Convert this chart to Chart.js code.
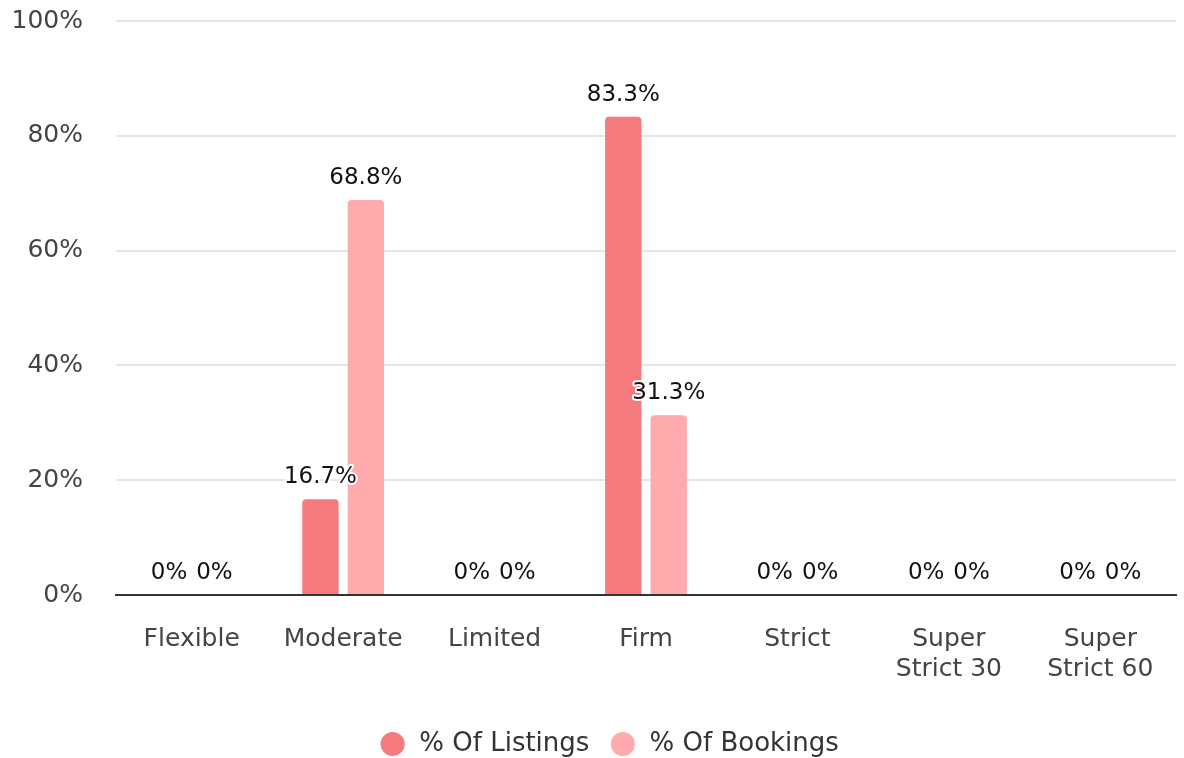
<!DOCTYPE html>
<html>
<head>
<meta charset="utf-8">
<script src="https://cdn.jsdelivr.net/npm/chart.js@4"></script>
<style>
  html, body { margin: 0; padding: 0; background: #fff; overflow: hidden; }
  #wrap { width: 1184px; height: 767px; position: relative; }
</style>
</head>
<body>
<div id="wrap"><canvas id="myChart"></canvas></div>
<script>
// Data
const categories = ["Flexible", "Moderate", "Limited", "Firm", "Strict", ["Super", "Strict 30"], ["Super", "Strict 60"]];
const listings = [0, 16.7, 0, 83.3, 0, 0, 0];
const bookings = [0, 68.8, 0, 31.3, 0, 0, 0];
const yTicks = [0, 20, 40, 60, 80, 100];

const FONT = "'DejaVu Sans', Verdana, sans-serif";

// draws value labels above each bar, with a white halo
const valueLabels = {
  id: "valueLabels",
  afterDatasetsDraw(chart) {
    const ctx = chart.ctx;
    ctx.save();
    ctx.font = "23px " + FONT;
    ctx.textAlign = "center";
    ctx.textBaseline = "middle";
    ctx.lineJoin = "round";
    chart.data.datasets.forEach((ds, i) => {
      chart.getDatasetMeta(i).data.forEach((bar, j) => {
        const txt = ds.data[j] + "%";
        const y = bar.y - 22;
        ctx.strokeStyle = "#fff";
        ctx.lineWidth = 4;
        ctx.strokeText(txt, bar.x, y);
        ctx.fillStyle = "#111";
        ctx.fillText(txt, bar.x, y);
      });
    });
    ctx.restore();
  }
};

// legend sits a little right of the canvas centre in the original
const legendShift = {
  id: "legendShift",
  afterLayout(chart) {
    chart.legend.left += 30;
    chart.legend.right += 30;
  }
};

window.addEventListener("load", function () {
  const data = {
    labels: categories,
    datasets: [
      {
        label: "% Of Listings",
        data: listings,
        backgroundColor: "#f47a7e",
        borderRadius: { topLeft: 4, topRight: 4 },
        borderSkipped: "bottom",
        categoryPercentage: 0.6,
        barPercentage: 0.8,
      },
      {
        label: "% Of Bookings",
        data: bookings,
        backgroundColor: "#ffaaad",
        borderRadius: { topLeft: 4, topRight: 4 },
        borderSkipped: "bottom",
        categoryPercentage: 0.6,
        barPercentage: 0.8,
      },
    ],
  };

  const config = {
    type: "bar",
    data,
    plugins: [valueLabels, legendShift],
    options: {
      responsive: true,
      maintainAspectRatio: false,
      animation: false,
      layout: { padding: { top: 21, right: 8, left: 0, bottom: 0 } },
      plugins: {
        legend: {
          position: "bottom",
          labels: {
            usePointStyle: true,
            pointStyle: "circle",
            boxWidth: 17,
            boxHeight: 17,
            padding: 12,
            color: "#333",
            font: { family: FONT, size: 26 },
            // a bit of space round each label text
            generateLabels: (chart) => {
              const items = Chart.defaults.plugins.legend.labels.generateLabels(chart);
              items.forEach((it) => { it.text = "\u2009" + it.text + "\u2002"; });
              return items;
            },
          },
        },
        tooltip: { enabled: false },
      },
      scales: {
        x: {
          grid: { display: false },
          border: { display: true, color: "#333", width: 2 },
          afterFit: (scale) => { scale.height = 124; },
          ticks: {
            color: "#444",
            padding: 21,
            maxRotation: 0,
            font: { family: FONT, size: 25, lineHeight: 1.2 },
          },
        },
        y: {
          min: 0,
          max: 100,
          afterBuildTicks: (axis) => {
            axis.ticks = yTicks.map((v) => ({ value: v }));
          },
          afterFit: (scale) => { scale.width = 116; },
          border: { display: false },
          grid: { color: "#e6e6e6", lineWidth: 2, drawTicks: true, tickLength: 33, tickColor: "rgba(0,0,0,0)" },
          ticks: {
            color: "#444",
            padding: 0,
            font: { family: FONT, size: 25 },
            callback: (v) => v + "%",
          },
        },
      },
    },
  };

  new Chart(document.getElementById("myChart"), config);
});
</script>
</body>
</html>
